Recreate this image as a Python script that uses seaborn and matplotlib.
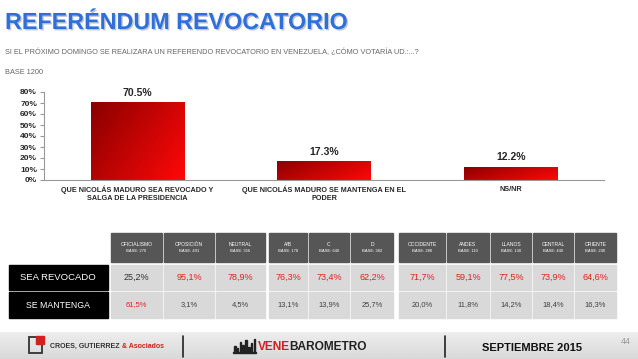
import numpy as np
import matplotlib
matplotlib.use("Agg")
import matplotlib.pyplot as plt
import matplotlib.patheffects as pe
from matplotlib.patches import Rectangle
from matplotlib.colors import LinearSegmentedColormap
import seaborn as sns

# data
categories = ["QUE NICOLÁS MADURO SEA REVOCADO Y\nSALGA DE LA PRESIDENCIA",
              "QUE NICOLÁS MADURO SE MANTENGA EN EL\nPODER",
              "NS/NR"]
values = [70.5, 17.3, 12.2]
y_ticks = [0, 10, 20, 30, 40, 50, 60, 70, 80]

col_names = ["OFICIALISMO", "OPOSICIÓN", "NEUTRAL", "A/B", "C", "D",
             "OCCIDENTE", "ANDES", "LLANOS", "CENTRAL", "ORIENTE"]
col_bases = [270, 491, 356, 178, 640, 382, 280, 110, 130, 440, 240]
row_names = ["SEA REVOCADO", "SE MANTENGA"]
sea_revocado = ["25,2%", "95,1%", "78,9%", "76,3%", "73,4%", "62,2%",
                "71,7%", "59,1%", "77,5%", "73,9%", "64,6%"]
se_mantenga = ["61,5%", "3,1%", "4,5%", "13,1%", "13,9%", "25,7%",
               "20,0%", "11,8%", "14,2%", "18,4%", "16,3%"]
sea_red = [False, True, True, True, True, True, True, True, True, True, True]
mant_red = [True, False, False, False, False, False, False, False, False, False, False]

sns.set_style("white")
plt.rcParams['font.family'] = ['Liberation Sans', 'DejaVu Sans']

W, H = 638, 359
fig = plt.figure(figsize=(W / 100, H / 100), dpi=100)
renderer = fig.canvas.get_renderer()

# background layer in pixel coordinates
ov = fig.add_axes([0, 0, 1, 1])
ov.set_xlim(0, W)
ov.set_ylim(H, 0)
ov.axis("off")


def text_after(t, gap, s, **kw):
    # put a text right after another one
    bb = t.get_window_extent(renderer=renderer)
    x_end = ov.transData.inverted().transform((bb.x1, bb.y0))[0]
    return ov.text(x_end + gap, t.get_position()[1], s, **kw)


ov.text(5, 29, "REFERÉNDUM REVOCATORIO", fontsize=16.8, fontweight="bold",
        color="#2f6fdc", va="baseline",
        path_effects=[pe.SimplePatchShadow(offset=(1, -1), alpha=0.25), pe.Normal()])
ov.text(5, 52, "SI EL PRÓXIMO DOMINGO SE REALIZARA UN REFERENDO REVOCATORIO EN VENEZUELA, ¿CÓMO VOTARÍA UD.:...?",
        fontsize=5.3, color="#666666", va="center")
ov.text(5, 73, "BASE 1200", fontsize=5.3, color="#666666", va="center")

# table
col_left = [111, 164, 216, 269, 309, 351, 399, 447, 491, 533, 575]
col_w = [51, 50, 49, 38, 40, 42, 46, 42, 40, 40, 41]
red = "#e02020"
ov.add_patch(Rectangle((9, 265), 99, 25, color="black"))
ov.add_patch(Rectangle((9, 292), 99, 26, color="black"))
ov.text(58, 277.5, row_names[0], color="white", fontsize=6.8, ha="center", va="center")
ov.text(58, 305, row_names[1], color="white", fontsize=6.3, ha="center", va="center")
for i in range(len(col_names)):
    x0, w = col_left[i], col_w[i]
    cx = x0 + w / 2
    ov.add_patch(Rectangle((x0, 233), w, 29, color="#565656"))
    ov.add_patch(Rectangle((x0, 265), w, 25, color="#d9d9d9"))
    ov.add_patch(Rectangle((x0, 292), w, 26, color="#d9d9d9"))
    ov.text(cx, 244, col_names[i], color="white", fontsize=3.6, ha="center", va="center")
    ov.text(cx, 251, "BASE: %d" % col_bases[i], color="white", fontsize=3.0, ha="center", va="center")
    ov.text(cx, 277.5, sea_revocado[i], fontsize=6.5, ha="center", va="center",
            color=red if sea_red[i] else "#303030")
    ov.text(cx, 305, se_mantenga[i], fontsize=5.4, ha="center", va="center",
            color=red if mant_red[i] else "#404040")

# footer
grad_band = np.linspace(0.93, 0.85, 20).reshape(-1, 1)
ov.imshow(grad_band, extent=[0, W, H, 332], cmap="gray", vmin=0, vmax=1, aspect="auto")
ov.set_xlim(0, W)
ov.set_ylim(H, 0)
ov.add_patch(Rectangle((29, 337), 13, 16, fill=False, lw=1.3, ec="#333333"))
ov.add_patch(Rectangle((36, 336), 8, 8, color="#d02020"))
t1 = ov.text(50, 346, "CROES, GUTIERREZ", fontsize=5.0, fontweight="bold", color="#333333", va="center")
text_after(t1, 2, "& Asociados", fontsize=5.0, fontweight="bold", color="#d02020", va="center")
ov.plot([183, 183], [336, 357], color="#222222", lw=1.2)
ov.plot([445, 445], [336, 357], color="#222222", lw=1.2)
for k, hgt in enumerate([6, 4, 10, 7, 12, 5, 9, 13]):
    ov.add_patch(Rectangle((234 + k * 2.8, 352 - hgt), 1.6, hgt, color="#222222"))
ov.add_patch(Rectangle((233, 352), 23, 1.2, color="#222222"))
t2 = ov.text(258, 347, "VENE", fontsize=8.6, fontweight="bold", color="#d02020", va="center")
text_after(t2, -1, "BAROMETRO", fontsize=8.6, fontweight="bold", color="#222222", va="center")
ov.text(532, 348, "SEPTIEMBRE 2015", fontsize=8, fontweight="bold", color="#111111",
        ha="center", va="center")
ov.text(626, 342, "44", fontsize=6.5, color="#999999", ha="center", va="center")

# bar chart
ax = fig.add_axes([44 / W, 1 - 180 / H, 560 / W, 88 / H])
ax.patch.set_alpha(0)
sns.barplot(x=categories, y=values, ax=ax, color="#e00000", width=0.5, saturation=1)
cmap = LinearSegmentedColormap.from_list("redgrad", ["#8a0000", "#ff0808"])
rows, cols = np.mgrid[0:50, 0:50] / 49.0
grad = 0.65 * cols + 0.35 * rows
for p in ax.patches:
    x, w, h = p.get_x(), p.get_width(), p.get_height()
    im = ax.imshow(grad, extent=[x, x + w, 0, h], cmap=cmap, aspect="auto", zorder=p.get_zorder() + 0.1)
    im.set_clip_path(p)
ax.set_xlim(-0.5, 2.5)
ax.set_ylim(0, 80)
ax.bar_label(ax.containers[0], labels=["%.1f%%" % v for v in values], fontsize=7.5,
             fontweight="bold", padding=3)
ax.set_yticks(y_ticks)
ax.set_yticklabels(["%d%%" % t for t in y_ticks], fontsize=6.0, fontweight="bold")
ax.set_xticks(range(len(categories)))
ax.set_xticklabels(categories, fontsize=5.2, fontweight="bold")
ax.set_xticks([0.5, 1.5], minor=True)
ax.tick_params(axis="x", which="major", length=0, pad=4)
ax.tick_params(axis="x", which="minor", length=4, color="#999999", direction="out")
ax.tick_params(axis="y", length=3, color="#999999", direction="out", pad=2, left=True)
for s in ["top", "right"]:
    ax.spines[s].set_visible(False)
for s in ["left", "bottom"]:
    ax.spines[s].set_color("#999999")
    ax.spines[s].set_linewidth(0.8)
ax.set_xlabel("")
ax.set_ylabel("")

fig.savefig("out.png", dpi=100)
